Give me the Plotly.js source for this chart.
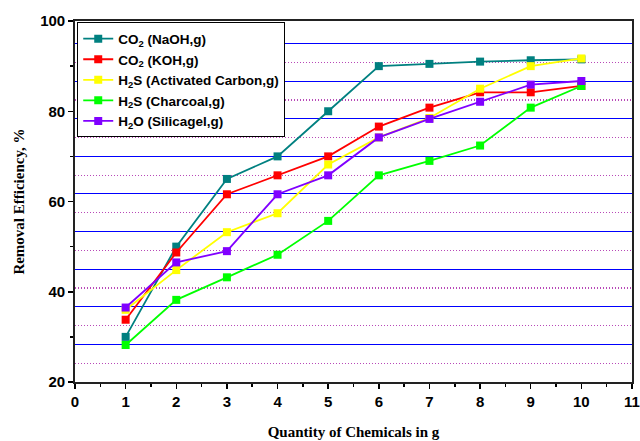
<!DOCTYPE html>
<html>
<head>
<meta charset="utf-8">
<script src="https://cdn.plot.ly/plotly-3.0.1.min.js"></script>
<style>html,body{margin:0;padding:0;background:#fff;}#chart{width:640px;height:441px;}</style>
</head>
<body>
<div id="chart"></div>
<script>
var quantity = [1, 2, 3, 4, 5, 6, 7, 8, 9, 10];
var co2NaOH = [30, 50, 65, 70, 80, 90, 90.5, 91, 91.3, 91.5];
var co2KOH = [33.8, 48.7, 61.6, 65.8, 70, 76.6, 80.8, 84.2, 84.2, 85.6];
var h2sActivatedCarbon = [36, 44.8, 53.2, 57.4, 68.2, 74.2, 78.5, 85, 90, 91.7];
var h2sCharcoal = [28.2, 38.2, 43.2, 48.2, 55.7, 65.8, 69, 72.4, 80.8, 85.6];
var h2oSilicagel = [36.5, 46.5, 49, 61.6, 65.8, 74.2, 78.3, 82.1, 85.9, 86.7];

var seriesNames = ['CO<sub>2</sub> (NaOH,g)', 'CO<sub>2</sub> (KOH,g)', 'H<sub>2</sub>S (Activated Carbon,g)', 'H<sub>2</sub>S (Charcoal,g)', 'H<sub>2</sub>O (Silicagel,g)'];
var seriesValues = [co2NaOH, co2KOH, h2sActivatedCarbon, h2sCharcoal, h2oSilicagel];
var seriesColors = ['#008080', '#FF0000', '#FFFF00', '#00FF00', '#8000FF'];

var traces = seriesValues.map(function (vals, i) {
  return {
    x: quantity, y: vals, name: seriesNames[i], type: 'scatter', mode: 'lines+markers',
    line: {color: seriesColors[i], width: 1.8},
    marker: {symbol: 'square', size: 8, color: seriesColors[i]}
  };
});

// horizontal reference grid: solid lines every 25/3 from 20, dotted halfway between (below 95)
var gridStep = 25 / 3;
var dottedGrid = [];
for (var k = 0; k < 9; k++) { dottedGrid.push(20 + (k + 0.5) * gridStep); }

var tickFont = {family: 'Liberation Sans, Arial, sans-serif', size: 15, color: '#000', weight: 'bold'};
var titleFont = {family: 'Liberation Serif, Times New Roman, serif', size: 15, color: '#000', weight: 'bold'};

var layout = {
  width: 640, height: 441,
  margin: {l: 75, r: 8, t: 21, b: 59},
  paper_bgcolor: '#fff', plot_bgcolor: '#fff',
  showlegend: true,
  legend: {
    x: 0.004, y: 0.996, xanchor: 'left', yanchor: 'top',
    bgcolor: '#fff', bordercolor: '#000', borderwidth: 1,
    font: {family: 'Liberation Sans, Arial, sans-serif', size: 13.5, color: '#000', weight: 'bold'},
    tracegroupgap: 0
  },
  xaxis: {
    range: [0, 11], tick0: 0, dtick: 1, ticks: 'outside', ticklen: 5, tickwidth: 1.5, tickcolor: '#000',
    minor: {dtick: 0.5, ticks: 'outside', ticklen: 3, tickwidth: 1.5, tickcolor: '#000', showgrid: false},
    showline: true, linecolor: '#222', linewidth: 1.8, mirror: true,
    showgrid: false, zeroline: false, tickfont: tickFont,
    title: {text: 'Quantity of Chemicals in g', font: titleFont, standoff: 18}
  },
  yaxis: {
    range: [20, 100], tick0: 20, dtick: 20, ticks: 'outside', ticklen: 5, tickwidth: 1.5, tickcolor: '#000',
    minor: {dtick: 10, ticks: 'outside', ticklen: 3, tickwidth: 1.5, tickcolor: '#000', showgrid: false},
    showline: true, linecolor: '#222', linewidth: 1.8, mirror: true,
    showgrid: false, zeroline: false, tickfont: tickFont,
    title: {text: 'Removal Efficiency, %', font: titleFont, standoff: 12}
  },
  yaxis2: {
    overlaying: 'y', range: [20, 100], tick0: 20, dtick: gridStep,
    showgrid: true, gridcolor: '#0000FF', gridwidth: 1, showticklabels: false, ticks: '',
    showline: false, zeroline: false
  },
  yaxis3: {
    overlaying: 'y', range: [20, 100], tickmode: 'array', tickvals: dottedGrid,
    showgrid: true, gridcolor: '#B848B8', gridwidth: 1.2, griddash: '1px,2px', showticklabels: false, ticks: '',
    showline: false, zeroline: false
  }
};

var gridTraces = [
  {x: [0], y: [20], yaxis: 'y2', mode: 'markers', marker: {opacity: 0}, showlegend: false, hoverinfo: 'skip'},
  {x: [0], y: [20], yaxis: 'y3', mode: 'markers', marker: {opacity: 0}, showlegend: false, hoverinfo: 'skip'}
];

Plotly.newPlot('chart', gridTraces.concat(traces), layout, {displayModeBar: false, staticPlot: true});
</script>
</body>
</html>
